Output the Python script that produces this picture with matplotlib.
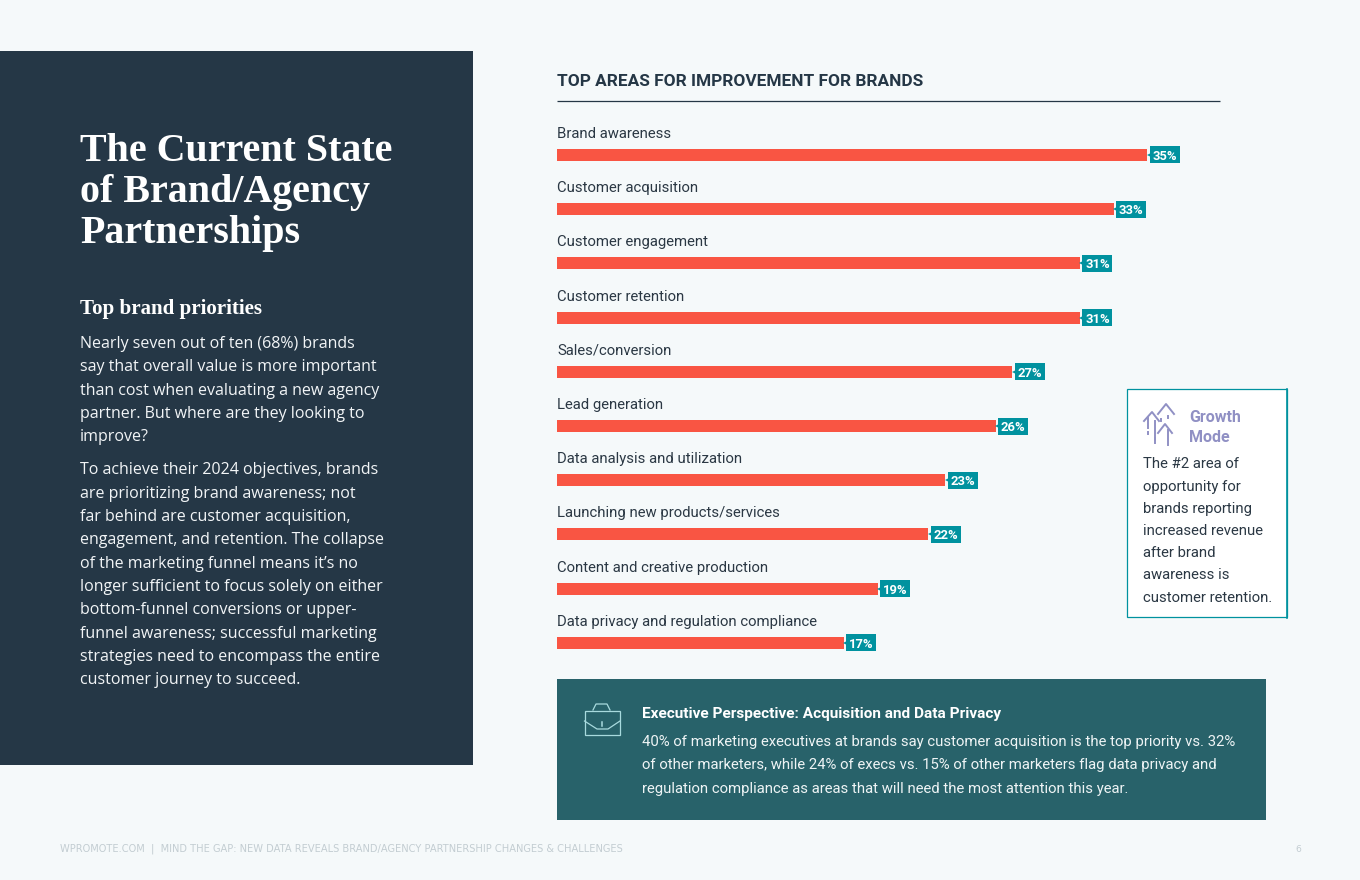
# -*- coding: utf-8 -*-
import matplotlib
matplotlib.use('Agg')
import matplotlib.pyplot as plt
from matplotlib.patches import Rectangle

# chart data
categories = ['Brand awareness', 'Customer acquisition', 'Customer engagement',
              'Customer retention', 'Sales/conversion', 'Lead generation',
              'Data analysis and utilization', 'Launching new products/services',
              'Content and creative production',
              'Data privacy and regulation compliance']
values = [35, 33, 31, 31, 27, 26, 23, 22, 19, 17]

title_lines = ['The Current State', 'of Brand/Agency', 'Partnerships']
para_one = ['Nearly seven out of ten (68%) brands',
            'say that overall value is more important',
            'than cost when evaluating a new agency',
            'partner. But where are they looking to',
            'improve?']
para_two = ['To achieve their 2024 objectives, brands',
            'are prioritizing brand awareness; not',
            'far behind are customer acquisition,',
            'engagement, and retention. The collapse',
            'of the marketing funnel means it\u2019s no',
            'longer sufficient to focus solely on either',
            'bottom-funnel conversions or upper-',
            'funnel awareness; successful marketing',
            'strategies need to encompass the entire',
            'customer journey to succeed.']
callout_lines = ['The #2 area of', 'opportunity for', 'brands reporting',
                 'increased revenue', 'after brand', 'awareness is',
                 'customer retention.']
exec_lines = ['40% of marketing executives at brands say customer acquisition is the top priority vs. 32%',
              'of other marketers, while 24% of execs vs. 15% of other marketers flag data privacy and',
              'regulation compliance as areas that will need the most attention this year.']

BG = '#f5f9fa'
NAVY = '#253746'
CORAL = '#f95543'
TEAL = '#00929f'
DARK_TEAL = '#28626a'
PURPLE = '#9090c4'
ICON = '#a8dade'
INK = '#2b3844'
BODY = 'Open Sans'
COND = 'Roboto'

PX = 0.72  # pixels to points at dpi 100

fig = plt.figure(figsize=(13.6, 8.8), dpi=100, facecolor=BG)

# page layer, in pixel coordinates
page = fig.add_axes([0, 0, 1, 1], zorder=0)
page.set_xlim(0, 1360)
page.set_ylim(880, 0)
page.axis('off')


def put(x, y, s, size, color, family=BODY, weight='normal', **kw):
    page.text(x, y, s, fontsize=size * PX, color=color, family=family,
              fontweight=weight, va='baseline', **kw)


def box(x0, y0, x1, y1, **kw):
    page.add_patch(Rectangle((x0, y0), x1 - x0, y1 - y0, **kw))


# left panel
box(0, 51, 473, 765, fc=NAVY, ec='none')
for line, y in zip(title_lines, [161, 202, 243]):
    put(80, y, line, 40, 'white', family='Liberation Serif', weight='bold')
put(80, 314, 'Top brand priorities', 21, 'white', family='Liberation Serif', weight='bold')
for line, y in zip(para_one, [348, 371, 395, 418, 441]):
    put(80, y, line, 16, '#f2f5f7')
for line, y in zip(para_two, [474, 498, 521, 544, 568, 591, 614, 638, 661, 684]):
    put(80, y, line, 16, '#f2f5f7')

# chart heading
put(557, 86, 'TOP AREAS FOR IMPROVEMENT FOR BRANDS', 17.3, NAVY, family=COND, weight='bold')
page.plot([557, 1219.5], [101.5, 101.5], color=NAVY, lw=0.9, solid_capstyle='butt')

# bar chart, one percent is 16.87 px wide and rows are 54.2 px apart
row_px = 54.2
pct_px = 16.87
ax = fig.add_axes([557 / 1360, 1 - (155 - row_px / 2 + 10 * row_px) / 880,
                   (1360 - 557) / 1360, 10 * row_px / 880], zorder=1)
ax.patch.set_alpha(0)
ax.set_xlim(0, (1360 - 557) / pct_px)
ax.set_ylim(9.5, -0.5)
ax.axis('off')

rows = range(len(values))
ax.barh(rows, values, height=12 / row_px, color=CORAL)
tag_gap = 2.5 / pct_px
tag_w = 30 / pct_px
lefts = [v + tag_gap for v in values]
ax.barh(rows, [tag_w] * len(values), left=lefts, height=17 / row_px, color=TEAL)
ax.plot(lefts, rows, ls='none', marker='<', ms=5, color=TEAL, mew=0)
for i, v in enumerate(values):
    ax.text(v + tag_gap + tag_w / 2, i, f'{v}%', color='white', fontsize=13 * PX,
            family=COND, fontweight='bold', ha='center', va='center_baseline')
    ax.annotate(categories[i], xy=(0, i), xytext=(0, 17 * PX), textcoords='offset points',
                fontsize=14.9 * PX, family=COND, color=INK, va='baseline')

# growth callout
box(1127, 389.5, 1287, 617.5, fc='white', ec=TEAL, lw=0.9)
page.plot([1287, 1287], [389, 618], color=TEAL, lw=1.2)
put(1189, 422, 'Growth', 16, PURPLE, family=COND, weight='bold')
put(1189, 442, 'Mode', 16, PURPLE, family=COND, weight='bold')
for line, y in zip(callout_lines, [468, 491, 513, 535, 557, 579, 602]):
    put(1143, y, line, 14.9, INK, family=COND)

# growth arrows icon
icon_paths = [
    [(1144, 421), (1152, 412), (1159, 421)],
    [(1158, 414), (1166, 404), (1174, 414)],
    [(1158, 433), (1165, 424), (1172, 433)],
    [(1168, 430), (1168, 445)],
    [(1148, 418), (1148, 428)],
    [(1155, 421), (1155, 443)],
]
for path in icon_paths:
    page.plot(*zip(*path), color=PURPLE, lw=1.4)
for x, y in [(1148, 432), (1155, 438), (1168, 416), (1161, 419)]:
    page.plot([x, x], [y, y + 2], color=PURPLE, lw=1.4)

# executive perspective band
box(557, 679, 1266, 820, fc=DARK_TEAL, ec='none')
put(642.5, 718, 'Executive Perspective: Acquisition and Data Privacy', 15.4, 'white',
    family=COND, weight='bold')
for line, y in zip(exec_lines, [746, 769, 793]):
    put(642.5, y, line, 14.85, '#eef4f5', family=COND)

# briefcase icon
box(584.5, 711, 620, 735.5, fc='none', ec=ICON, lw=0.9)
page.plot([593, 596, 607, 610], [710, 704, 704, 710], color=ICON, lw=0.9)
page.plot([584.5, 597, 608, 620], [721, 729, 729, 721], color=ICON, lw=0.9)
page.plot([602, 602], [722, 726], color=ICON, lw=1.1)

# footer
put(60, 851, 'WPROMOTE.COM  |  MIND THE GAP: NEW DATA REVEALS BRAND/AGENCY PARTNERSHIP CHANGES & CHALLENGES',
    9.93, '#c3cdd2', family='DejaVu Sans')
put(1295, 852, '6', 9.2, '#c3cdd2', family='DejaVu Sans')

fig.savefig('out.png', dpi=100, facecolor=BG)
